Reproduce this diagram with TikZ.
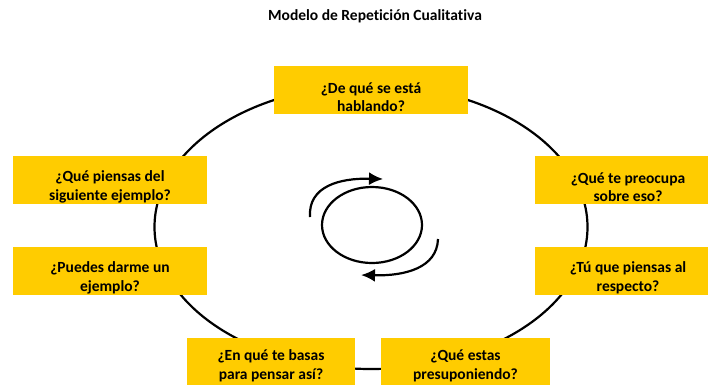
\documentclass[tikz,border=0pt]{standalone}
\usepackage{fontspec}
\setmainfont{Carlito}[Ligatures=NoCommon]
\usetikzlibrary{arrows.meta}
\definecolor{boxyellow}{RGB}{255,204,0}
\newcommand{\qfont}{\fontsize{15.5}{18.5}\selectfont\bfseries}
\begin{document}
\begin{tikzpicture}[x=1pt,y=-1pt]
\tikzset{qbox/.style={fill=boxyellow, minimum width=#1, minimum height=48pt, inner sep=0pt},
  qtext/.style={align=center, font=\qfont, inner sep=0pt, yshift=-7pt},
  cycle/.style={line width=2.2pt, -{Latex[length=14pt,width=13pt]}}}
\useasboundingbox (0,0) rectangle (708,384);
% title
\node (title) [font=\qfont] at (375,16) {Modelo de Repetición Cualitativa};
% the big ring
\draw[line width=2.2pt] (371,227) ellipse [x radius=216.5, y radius=142];
% the questions
\node (hablando) [qbox=194pt, label={[qtext]center:{¿De qué se está\\hablando?}}] at (371,90) {};
\node (siguiente) [qbox=194pt, label={[qtext]center:{¿Qué piensas del\\siguiente ejemplo?}}] at (110,180) {};
\node (darme) [qbox=194pt, label={[qtext]center:{¿Puedes darme un\\ejemplo?}}] at (110,271) {};
\node (preocupa) [qbox=186pt, label={[qtext]center:{¿Qué te preocupa\\sobre eso?}}] at (628,180) {};
\node (respecto) [qbox=186pt, label={[qtext]center:{¿Tú que piensas al\\respecto?}}] at (628,271) {};
\node (basas) [qbox=168pt, label={[qtext,yshift=3pt]center:{¿En qué te basas\\para pensar así?}}] at (271,362) {};
\node (presupon) [qbox=169pt, label={[qtext,yshift=3pt]center:{¿Qué estas\\presuponiendo?}}] at (465.5,362) {};
% the cycle in the middle
\draw[line width=2.2pt] (372,225) ellipse [x radius=50, y radius=38];
\coordinate (upstart) at (310,217);
\coordinate (uptip) at (383,179);
\coordinate (lowstart) at (438,239);
\coordinate (lowtip) at (361,275);
\draw[cycle] (upstart) .. controls (308,186) and (340,178) .. (uptip);
\draw[cycle] (lowstart) .. controls (437,268) and (405,276) .. (lowtip);
\end{tikzpicture}
\end{document}
